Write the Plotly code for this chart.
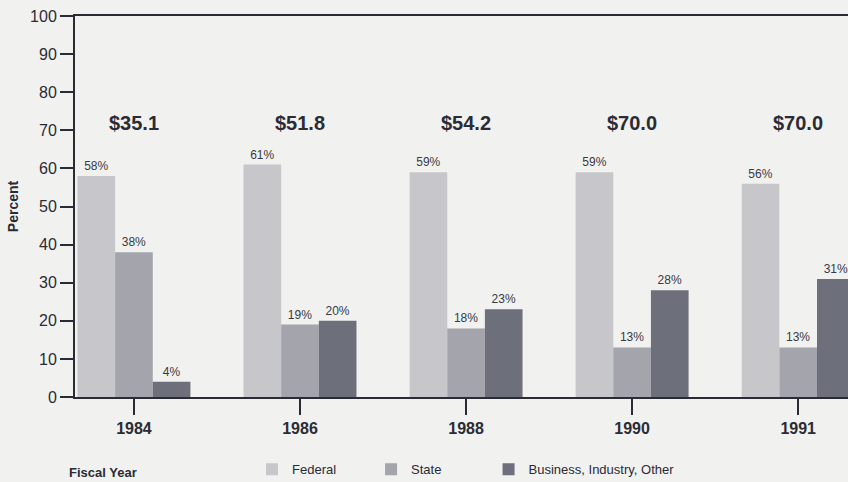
import plotly.graph_objects as go

years = ["1984", "1986", "1988", "1990", "1991"]
federal = [58, 61, 59, 59, 56]
state = [38, 19, 18, 13, 13]
business = [4, 20, 23, 28, 31]
totals = ["$35.1", "$51.8", "$54.2", "$70.0", "$70.0"]
series_names = ["Federal", "State", "Business, Industry, Other"]
colors = ["#c7c7cb", "#a3a4ac", "#6d6f7b"]
legend_ids = ["legend", "legend2", "legend3"]
legend_x = [0.229, 0.383, 0.535]

FONT = "Liberation Sans, Arial, sans-serif"
INK = "#2b2b36"

fig = go.Figure()
for name, vals, col, lg in zip(series_names, [federal, state, business], colors, legend_ids):
    fig.add_trace(go.Bar(
        x=years, y=vals, name=name, marker=dict(color=col, line=dict(width=0)),
        text=[f"{v}%" for v in vals], textposition="outside",
        textfont=dict(family=FONT, size=12, color="#3a3a44"),
        cliponaxis=False, legend=lg,
    ))

for i, t in enumerate(totals):
    fig.add_annotation(x=i, y=72, text=f"<b>{t}</b>", showarrow=False,
                       font=dict(family=FONT, size=20, color=INK),
                       xref="x", yref="y")

fig.add_annotation(x=-0.01, y=-0.197, xref="paper", yref="paper", text="<b>Fiscal Year</b>",
                   showarrow=False, xanchor="left", yanchor="middle",
                   font=dict(family=FONT, size=13, color=INK))

leg_common = dict(orientation="h", y=-0.19, xanchor="left", yanchor="middle",
                  itemsizing="constant", bgcolor="rgba(0,0,0,0)",
                  font=dict(family=FONT, size=13, color=INK))
layout_legends = {lg: dict(x=lx, **leg_common) for lg, lx in zip(legend_ids, legend_x)}

fig.update_layout(
    width=848, height=482,
    margin=dict(l=75, r=0, t=16, b=85, autoexpand=False),
    paper_bgcolor="#f1f1ef", plot_bgcolor="#f1f1ef",
    barmode="group", bargap=0.32, bargroupgap=0,
    font=dict(family=FONT, color=INK),
    showlegend=True,
    xaxis=dict(
        type="category", range=[-0.355, 4.3],
        showline=True, linecolor=INK, linewidth=2, mirror=True,
        ticks="outside", ticklen=16, tickwidth=2, tickcolor=INK,
        tickfont=dict(family=FONT, size=16, color=INK),
        showgrid=False,
    ),
    yaxis=dict(
        range=[0, 100], tickvals=list(range(0, 101, 10)),
        showline=True, linecolor=INK, linewidth=2,
        ticks="outside", ticklen=13, tickwidth=2, tickcolor=INK,
        tickfont=dict(family=FONT, size=16, color=INK),
        showgrid=False, zeroline=False,
        title=dict(text="<b>Percent</b>", font=dict(family=FONT, size=14, color=INK), standoff=8),
    ),
    **layout_legends,
)
fig.update_xaxes(tickprefix="<b>", ticksuffix="</b>")
fig.update_yaxes(tickprefix="<b>", ticksuffix="</b>")
fig.write_html("out.html", config={"displayModeBar": False},
               post_script="document.body.style.margin='0';")
